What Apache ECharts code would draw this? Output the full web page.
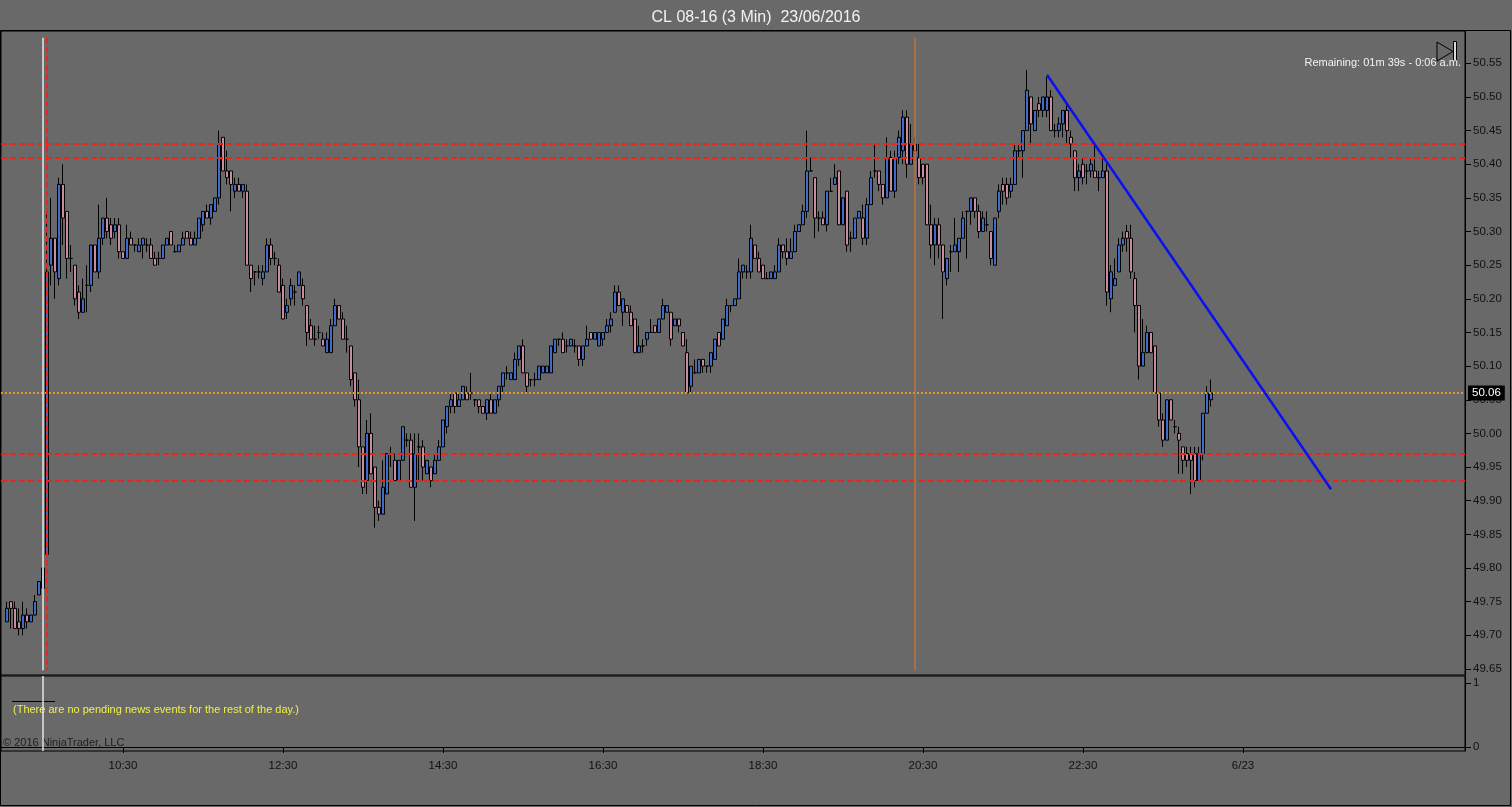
<!DOCTYPE html>
<html>
<head>
<meta charset="utf-8">
<title>CL 08-16 (3 Min) 23/06/2016</title>
<script src="https://cdn.jsdelivr.net/npm/echarts@6.0.0/dist/echarts.min.js"></script>
<style>
html,body{margin:0;padding:0;background:#696969;}
#chart{width:1512px;height:807px;}
</style>
</head>
<body>
<div id="chart"></div>
<script>
// 3 minute slots, 09:00 -> 03:15 next day
var startMinute = 9 * 60;
var stepMinutes = 3;
var slotCount = 366;
var firstBarSlot = 1; // first bar is 09:03

var tickTimes = ['10:30', '12:30', '14:30', '16:30', '18:30', '20:30', '22:30', '00:30'];
var tickTexts = ['10:30', '12:30', '14:30', '16:30', '18:30', '20:30', '22:30', '6/23'];
var priceTicks = [49.65, 49.70, 49.75, 49.80, 49.85, 49.90, 49.95, 50.00, 50.05, 50.10,
	50.15, 50.20, 50.25, 50.30, 50.35, 50.40, 50.45, 50.50, 50.55];

var opens = [
	49.72,49.75,49.74,49.72,49.71,49.73,49.72,49.73,49.76,49.77,
	49.82,50.25,50.29,50.23,50.37,50.33,50.26,50.25,50.21,50.18,
	50.22,50.22,50.28,50.24,50.29,50.32,50.31,50.30,50.31,50.27,
	50.26,50.29,50.28,50.27,50.28,50.28,50.28,50.26,50.26,50.26,
	50.28,50.30,50.27,50.27,50.28,50.30,50.29,50.28,50.29,50.31,
	50.33,50.32,50.33,50.35,50.44,50.39,50.39,50.36,50.37,50.36,
	50.36,50.25,50.24,50.24,50.23,50.24,50.28,50.26,50.25,50.22,
	50.18,50.20,50.21,50.22,50.22,50.19,50.16,50.14,50.15,50.14,
	50.12,50.12,50.16,50.19,50.17,50.14,50.13,50.09,50.05,49.98,
	49.93,50.00,49.95,49.89,49.88,49.91,49.97,49.96,49.93,49.96,
	49.99,49.99,49.92,49.98,49.98,49.94,49.95,49.94,49.96,49.98,
	50.01,50.04,50.06,50.04,50.05,50.06,50.06,50.05,50.05,50.04,
	50.03,50.05,50.03,50.05,50.07,50.09,50.08,50.08,50.11,50.13,
	50.09,50.08,50.08,50.08,50.09,50.09,50.09,50.12,50.14,50.14,
	50.13,50.13,50.13,50.13,50.11,50.13,50.15,50.14,50.13,50.14,
	50.15,50.16,50.18,50.21,50.18,50.19,50.18,50.17,50.12,50.13,
	50.14,50.15,50.16,50.15,50.17,50.18,50.18,50.16,50.17,50.15,
	50.12,50.07,50.09,50.09,50.11,50.10,50.10,50.11,50.15,50.14,
	50.16,50.19,50.19,50.20,50.24,50.24,50.24,50.28,50.26,50.25,
	50.23,50.23,50.23,50.24,50.28,50.27,50.26,50.27,50.30,50.31,
	50.33,50.39,50.38,50.32,50.32,50.31,50.36,50.37,50.39,50.31,
	50.36,50.29,50.29,50.32,50.32,50.29,50.34,50.39,50.39,50.37,
	50.35,50.41,50.36,50.41,50.42,50.47,50.40,50.43,50.41,50.40,
	50.40,50.31,50.28,50.31,50.28,50.23,50.27,50.27,50.27,50.29,
	50.33,50.33,50.35,50.33,50.30,50.31,50.30,50.25,50.33,50.37,
	50.37,50.36,50.37,50.42,50.42,50.45,50.50,50.45,50.49,50.48,
	50.48,50.50,50.45,50.45,50.46,50.48,50.44,50.42,50.38,50.40,
	50.39,50.39,50.39,50.38,50.38,50.39,50.20,50.22,50.24,50.28,
	50.30,50.29,50.23,50.19,50.10,50.12,50.15,50.13,50.06,50.02,
	49.99,50.05,50.01,50.00,49.98,49.97,49.97,49.97,49.93,49.97,
	50.03,50.05
];
var closes = [
	49.74,49.74,49.71,49.71,49.73,49.72,49.73,49.75,49.78,49.80,
	50.24,50.29,50.24,50.37,50.32,50.26,50.26,50.20,50.18,50.20,
	50.22,50.28,50.24,50.29,50.32,50.30,50.29,50.31,50.27,50.26,
	50.29,50.28,50.28,50.28,50.29,50.28,50.26,50.25,50.26,50.28,
	50.29,50.28,50.27,50.28,50.29,50.29,50.28,50.29,50.32,50.33,
	50.32,50.34,50.35,50.43,50.39,50.38,50.37,50.37,50.36,50.37,
	50.25,50.23,50.24,50.24,50.24,50.28,50.26,50.26,50.21,50.17,
	50.19,50.22,50.21,50.24,50.20,50.15,50.14,50.14,50.15,50.13,
	50.14,50.16,50.19,50.17,50.14,50.14,50.08,50.05,49.98,49.92,
	50.00,49.94,49.89,49.88,49.92,49.97,49.97,49.93,49.96,50.01,
	49.99,49.92,49.97,49.98,49.95,49.96,49.93,49.96,49.98,50.02,
	50.04,50.05,50.04,50.05,50.07,50.05,50.06,50.05,50.04,50.03,
	50.05,50.03,50.05,50.07,50.09,50.09,50.09,50.11,50.13,50.09,
	50.07,50.08,50.08,50.10,50.10,50.10,50.13,50.14,50.14,50.12,
	50.13,50.14,50.13,50.11,50.13,50.14,50.14,50.15,50.15,50.15,
	50.16,50.17,50.21,50.19,50.20,50.18,50.16,50.12,50.13,50.13,
	50.15,50.15,50.15,50.17,50.19,50.19,50.14,50.17,50.16,50.13,
	50.06,50.10,50.09,50.11,50.10,50.10,50.12,50.14,50.13,50.17,
	50.19,50.19,50.20,50.24,50.25,50.24,50.29,50.26,50.24,50.23,
	50.23,50.24,50.24,50.28,50.27,50.26,50.27,50.30,50.31,50.33,
	50.39,50.39,50.32,50.32,50.31,50.36,50.36,50.38,50.31,50.35,
	50.28,50.29,50.32,50.33,50.29,50.34,50.38,50.39,50.37,50.35,
	50.41,50.36,50.41,50.44,50.47,50.40,50.43,50.42,50.38,50.38,
	50.31,50.28,50.31,50.28,50.24,50.26,50.27,50.28,50.29,50.32,
	50.33,50.35,50.33,50.30,50.32,50.31,50.26,50.32,50.36,50.36,
	50.35,50.37,50.42,50.42,50.45,50.51,50.46,50.48,50.48,50.50,
	50.50,50.45,50.45,50.46,50.48,50.45,50.43,50.38,50.39,50.38,
	50.39,50.40,50.38,50.38,50.39,50.21,50.24,50.23,50.28,50.29,
	50.29,50.24,50.19,50.10,50.12,50.15,50.12,50.06,50.02,49.99,
	50.05,50.02,50.01,49.99,49.96,49.96,49.96,49.93,49.97,50.03,
	50.06,50.06
];
var lows = [
	49.72,49.71,49.71,49.70,49.70,49.71,49.72,49.73,49.76,49.77,
	49.82,50.22,50.20,50.22,50.28,50.23,50.24,50.19,50.17,50.18,
	50.18,50.21,50.24,50.23,50.28,50.29,50.28,50.29,50.26,50.26,
	50.26,50.28,50.27,50.27,50.26,50.27,50.26,50.25,50.25,50.26,
	50.28,50.28,50.27,50.27,50.28,50.29,50.28,50.28,50.29,50.30,
	50.32,50.31,50.33,50.34,50.39,50.37,50.33,50.35,50.36,50.35,
	50.25,50.21,50.22,50.23,50.22,50.24,50.25,50.25,50.21,50.17,
	50.17,50.19,50.19,50.22,50.19,50.13,50.14,50.13,50.14,50.13,
	50.12,50.12,50.16,50.17,50.14,50.12,50.07,50.04,49.95,49.91,
	49.91,49.94,49.86,49.87,49.88,49.91,49.95,49.93,49.93,49.96,
	49.98,49.92,49.87,49.93,49.93,49.94,49.92,49.94,49.96,49.98,
	50.00,50.03,50.03,50.04,50.05,50.05,50.05,50.04,50.03,50.03,
	50.02,50.03,50.03,50.04,50.06,50.08,50.08,50.08,50.10,50.09,
	50.06,50.07,50.07,50.08,50.09,50.09,50.09,50.12,50.13,50.12,
	50.12,50.13,50.12,50.10,50.10,50.13,50.14,50.14,50.13,50.13,
	50.15,50.15,50.18,50.19,50.16,50.18,50.16,50.12,50.12,50.12,
	50.13,50.15,50.15,50.15,50.17,50.18,50.13,50.16,50.15,50.13,
	50.06,50.06,50.09,50.09,50.09,50.09,50.09,50.11,50.13,50.14,
	50.16,50.18,50.19,50.20,50.23,50.23,50.23,50.26,50.24,50.23,
	50.23,50.23,50.23,50.24,50.26,50.25,50.26,50.27,50.30,50.31,
	50.32,50.39,50.29,50.30,50.31,50.30,50.36,50.37,50.31,50.31,
	50.27,50.27,50.29,50.32,50.28,50.28,50.34,50.38,50.36,50.34,
	50.35,50.36,50.35,50.40,50.40,50.38,50.40,50.42,50.37,50.37,
	50.31,50.26,50.25,50.26,50.17,50.22,50.24,50.27,50.24,50.29,
	50.26,50.31,50.32,50.29,50.30,50.30,50.25,50.25,50.32,50.34,
	50.34,50.35,50.37,50.41,50.38,50.45,50.43,50.45,50.47,50.47,
	50.47,50.45,50.44,50.44,50.44,50.43,50.41,50.36,50.36,50.37,
	50.37,50.38,50.38,50.36,50.38,50.19,50.18,50.22,50.24,50.27,
	50.27,50.23,50.15,50.08,50.10,50.12,50.12,50.06,50.01,49.98,
	49.99,50.02,50.00,49.94,49.94,49.95,49.91,49.92,49.93,49.96,
	50.03,50.04
];
var highs = [
	49.75,49.75,49.75,49.74,49.75,49.74,49.73,49.76,49.78,49.80,
	50.33,50.35,50.29,50.38,50.40,50.33,50.28,50.25,50.22,50.23,
	50.25,50.28,50.28,50.34,50.32,50.35,50.32,50.32,50.32,50.27,
	50.31,50.30,50.28,50.29,50.29,50.29,50.29,50.27,50.27,50.28,
	50.29,50.30,50.28,50.28,50.30,50.30,50.30,50.30,50.32,50.33,
	50.34,50.34,50.35,50.45,50.44,50.42,50.39,50.38,50.38,50.37,
	50.37,50.25,50.24,50.25,50.25,50.29,50.29,50.27,50.26,50.23,
	50.20,50.23,50.22,50.24,50.23,50.19,50.17,50.16,50.16,50.15,
	50.15,50.17,50.20,50.19,50.18,50.16,50.13,50.09,50.08,49.98,
	50.02,50.03,49.95,49.90,49.96,49.97,49.98,49.97,49.96,50.01,
	50.00,50.00,50.00,50.00,49.99,49.96,49.95,49.97,49.99,50.02,
	50.04,50.06,50.06,50.06,50.07,50.07,50.09,50.05,50.05,50.04,
	50.05,50.06,50.05,50.07,50.09,50.10,50.09,50.12,50.13,50.14,
	50.09,50.08,50.09,50.10,50.10,50.10,50.13,50.14,50.14,50.15,
	50.14,50.14,50.14,50.13,50.13,50.16,50.15,50.15,50.15,50.15,
	50.17,50.18,50.22,50.22,50.20,50.19,50.19,50.17,50.16,50.14,
	50.15,50.17,50.16,50.17,50.20,50.19,50.18,50.17,50.17,50.15,
	50.14,50.10,50.11,50.11,50.11,50.10,50.12,50.14,50.15,50.17,
	50.20,50.19,50.20,50.26,50.25,50.25,50.31,50.28,50.27,50.25,
	50.24,50.24,50.25,50.29,50.28,50.29,50.29,50.31,50.31,50.34,
	50.45,50.41,50.38,50.33,50.33,50.36,50.38,50.40,50.39,50.35,
	50.36,50.30,50.32,50.33,50.34,50.35,50.39,50.43,50.39,50.37,
	50.44,50.42,50.42,50.45,50.48,50.48,50.46,50.44,50.43,50.40,
	50.40,50.34,50.32,50.32,50.28,50.26,50.28,50.32,50.29,50.33,
	50.33,50.35,50.35,50.34,50.33,50.33,50.30,50.32,50.37,50.38,
	50.38,50.38,50.43,50.43,50.45,50.54,50.50,50.48,50.50,50.50,
	50.53,50.51,50.46,50.47,50.48,50.49,50.45,50.42,50.40,50.41,
	50.40,50.41,50.43,50.39,50.41,50.40,50.25,50.26,50.29,50.30,
	50.31,50.31,50.24,50.19,50.17,50.16,50.15,50.13,50.06,50.03,
	50.05,50.05,50.02,50.01,49.98,49.98,49.98,49.98,49.98,50.03,
	50.07,50.08
];

// drawn objects on the chart
var levelLines = [50.432, 50.407, 49.973, 49.927];
var lastPrice = 50.06;
var trendFrom = ['22:03', 50.533];
var trendTo = ['01:36', 49.917];
var sessionTime = '09:30';
var openTime = '09:33';
var markerTime = '20:24';

var pad2 = function(n){ return (n < 10 ? '0' : '') + n; };
var times = [];
for (var i = 0; i < slotCount; i++) {
	var m = (startMinute + i * stepMinutes) % 1440;
	times.push(pad2(Math.floor(m / 60)) + ':' + pad2(m % 60));
}
var candles = [];
for (var j = 0; j < opens.length; j++) {
	candles.push([times[firstBarSlot + j], opens[j], closes[j], lows[j], highs[j]]);
}

var isTick = function(index, value){ return tickTimes.indexOf(value) >= 0; };
var redDash = { color: '#e8281f', width: 2, type: [6, 3] };
var sessionStyle = { color: '#e6e6e6', width: 1.5, type: 'solid' };

var markLines = [];
for (var k = 0; k < levelLines.length; k++) {
	markLines.push({ yAxis: levelLines[k], lineStyle: redDash });
}
markLines.push({
	yAxis: lastPrice,
	lineStyle: { color: '#e8962e', width: 2, type: [2, 2] },
	label: {
		show: true, position: 'end', distance: 3,
		formatter: lastPrice.toFixed(2),
		color: '#fff', backgroundColor: '#000', padding: [2, 4, 1, 4], fontSize: 11.5
	}
});
markLines.push([{ coord: [sessionTime, 50.588], lineStyle: sessionStyle }, { coord: [sessionTime, 49.648] }]);
markLines.push([{ coord: [openTime, 50.588], lineStyle: redDash }, { coord: [openTime, 49.648] }]);
markLines.push([{ coord: [markerTime, 50.588], lineStyle: { color: '#c0703c', width: 1.5, type: 'solid' } }, { coord: [markerTime, 49.648] }]);
markLines.push([{ coord: trendFrom, lineStyle: { color: '#0a10f5', width: 2.5, type: 'solid' } }, { coord: trendTo }]);

var chart = echarts.init(document.getElementById('chart'));
var option = {
	animation: false,
	backgroundColor: '#696969',
	textStyle: { fontFamily: '"Liberation Sans", Arial, sans-serif' },
	title: {
		text: 'CL 08-16 (3 Min)  23/06/2016',
		left: 'center',
		top: 5,
		textStyle: { color: '#f2f2f2', fontSize: 16, fontWeight: 'normal' }
	},
	grid: [
		{ left: 1, top: 31, width: 1464, height: 644, show: true, borderColor: '#000', borderWidth: 1, backgroundColor: 'transparent' },
		{ left: 1, top: 676, width: 1464, height: 75, show: true, borderColor: '#000', borderWidth: 1, backgroundColor: 'transparent' }
	],
	xAxis: [
		{
			type: 'category', gridIndex: 0, data: times, boundaryGap: true,
			axisLine: { show: false }, axisTick: { show: false }, axisLabel: { show: false }, splitLine: { show: false }
		},
		{
			type: 'category', gridIndex: 1, data: times, boundaryGap: true,
			axisLine: { show: true, lineStyle: { color: '#000' } },
			axisTick: { show: true, interval: isTick, alignWithLabel: true, length: 6, lineStyle: { color: '#000' } },
			axisLabel: {
				interval: isTick,
				formatter: function(value){ return tickTexts[tickTimes.indexOf(value)]; },
				color: '#111', fontSize: 11.5, margin: 9
			},
			splitLine: { show: false }
		}
	],
	yAxis: [
		{
			type: 'value', gridIndex: 0, position: 'right', min: 49.641, max: 50.598,
			axisLine: { show: true, lineStyle: { color: '#000' } },
			axisTick: { show: true, customValues: priceTicks, length: 6, lineStyle: { color: '#000' } },
			axisLabel: {
				customValues: priceTicks,
				formatter: function(v){ return v.toFixed(2); },
				color: '#111', fontSize: 11.5, margin: 8
			},
			splitLine: { show: false }
		},
		{
			type: 'value', gridIndex: 1, position: 'right', min: -0.0625, max: 1.11,
			axisLine: { show: true, lineStyle: { color: '#000' } },
			axisTick: { show: true, customValues: [0, 1], length: 6, lineStyle: { color: '#000' } },
			axisLabel: {
				customValues: [0, 1],
				formatter: function(v){ return String(Math.round(v)); },
				color: '#111', fontSize: 11.5, margin: 8
			},
			splitLine: { show: false }
		}
	],
	series: [
		{
			name: 'CL 08-16',
			type: 'candlestick',
			xAxisIndex: 0,
			yAxisIndex: 0,
			barWidth: 3.2,
			encode: { x: 0, y: [1, 2, 3, 4] },
			data: candles,
			itemStyle: {
				color: '#3f6cc8',
				color0: '#c98c9c',
				borderColor: '#000',
				borderColor0: '#000',
				borderWidth: 1
			},
			markLine: {
				silent: true,
				symbol: ['none', 'none'],
				label: { show: false },
				data: markLines
			}
		},
		{
			name: 'news',
			type: 'line',
			xAxisIndex: 1,
			yAxisIndex: 1,
			data: []
		}
	],
	graphic: [
		{ id: 'frame', type: 'rect', shape: { x: 0.5, y: 30.5, width: 1510, height: 775 }, style: { fill: 'none', stroke: '#000', lineWidth: 1 }, silent: true },
		{ id: 'newsRule', type: 'line', shape: { x1: 12, y1: 701.5, x2: 55, y2: 701.5 }, style: { stroke: '#000', lineWidth: 1 }, silent: true },
		{ id: 'news', type: 'text', x: 13, y: 710, style: { text: '(There are no pending news events for the rest of the day.)', fill: '#f0f04a', font: '11px "Liberation Sans", Arial', align: 'left', verticalAlign: 'middle', textAlign: 'left', textVerticalAlign: 'middle' }, silent: true },
		{ id: 'copy', type: 'text', x: 3, y: 743, style: { text: '\u00a9 2016 NinjaTrader, LLC', fill: '#1e1e1e', font: '11px "Liberation Sans", Arial', align: 'left', verticalAlign: 'middle', textAlign: 'left', textVerticalAlign: 'middle' }, silent: true },
		{ id: 'remain', type: 'text', x: 1461, y: 63, style: { text: 'Remaining: 01m 39s - 0:06 a.m.', fill: '#f4f4f4', font: '11px "Liberation Sans", Arial', align: 'right', verticalAlign: 'middle', textAlign: 'right', textVerticalAlign: 'middle' }, silent: true, z: 10 },
		{ id: 'iconTri', type: 'polygon', shape: { points: [[1437, 42], [1437, 61], [1453, 51.5]] }, style: { fill: 'none', stroke: '#000', lineWidth: 1 }, silent: true },
		{ id: 'iconBar', type: 'rect', shape: { x: 1453.5, y: 41.5, width: 3, height: 19 }, style: { fill: '#d8d8d8', stroke: '#000', lineWidth: 1 }, silent: true }
	]
};
chart.setOption(option);

// session line continues through the news panel
var pTop = chart.convertToPixel({ xAxisIndex: 1, yAxisIndex: 1 }, [sessionTime, 1.11]);
var pBottom = chart.convertToPixel({ xAxisIndex: 1, yAxisIndex: 1 }, [sessionTime, -0.0625]);
chart.setOption({
	graphic: [{
		id: 'sessionLower', type: 'line', silent: true, z: 5,
		shape: { x1: pTop[0], y1: pTop[1], x2: pBottom[0], y2: pBottom[1] },
		style: { stroke: '#e6e6e6', lineWidth: 1.5 }
	}]
});
</script>
</body>
</html>
